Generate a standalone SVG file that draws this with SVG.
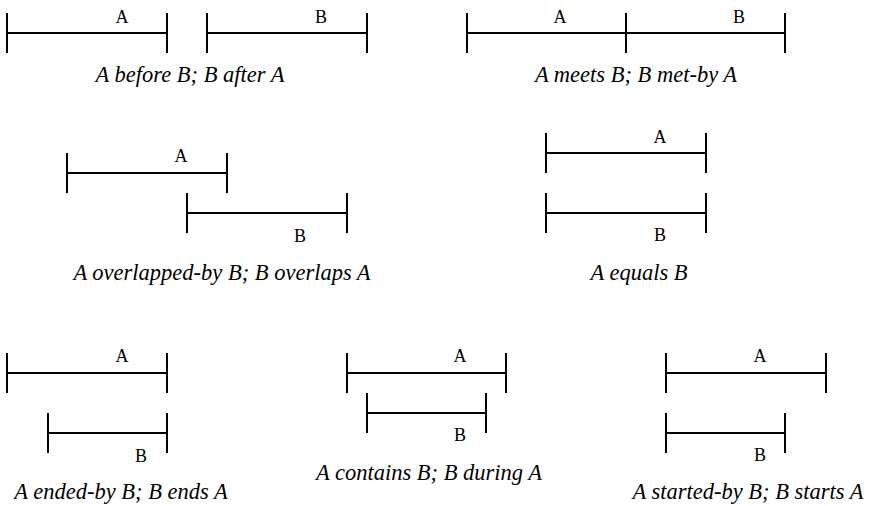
<svg xmlns="http://www.w3.org/2000/svg" width="872" height="506" viewBox="0 0 872 506">
<style>
  .iv { fill: none; stroke: #000; stroke-width: 2; }
  .lbl { font-family: "Liberation Serif", "Times New Roman", serif; font-size: 18px; fill: #000; text-anchor: middle; }
  .cap { font-family: "Liberation Serif", "Times New Roman", serif; font-size: 22.5px; font-style: italic; fill: #000; text-anchor: middle; }
</style>
<rect width="872" height="506" fill="#fff"/>

<g id="before">
  <g id="before-A"><path class="iv" d="M7 33H167M7 13V53M167 13V53"/><text class="lbl" x="122" y="23">A</text></g>
  <g id="before-B"><path class="iv" d="M207 33H367M207 13V53M367 13V53"/><text class="lbl" x="321" y="23">B</text></g>
  <text class="cap" x="190" y="82">A before B; B after A</text>
</g>

<g id="meets">
  <g id="meets-A"><path class="iv" d="M467 33H626M467 13V53M626 13V53"/><text class="lbl" x="560" y="23">A</text></g>
  <g id="meets-B"><path class="iv" d="M626 33H785M785 13V53"/><text class="lbl" x="739" y="23">B</text></g>
  <text class="cap" x="636" y="82">A meets B; B met-by A</text>
</g>

<g id="overlap">
  <g id="overlap-A"><path class="iv" d="M67 173H227M67 153V193M227 153V193"/><text class="lbl" x="181" y="162">A</text></g>
  <g id="overlap-B"><path class="iv" d="M187 213H347M187 193V233M347 193V233"/><text class="lbl" x="300" y="242">B</text></g>
  <text class="cap" x="222" y="280">A overlapped-by B; B overlaps A</text>
</g>

<g id="equals">
  <g id="equals-A"><path class="iv" d="M546 153H706M546 133V173M706 133V173"/><text class="lbl" x="660" y="143">A</text></g>
  <g id="equals-B"><path class="iv" d="M546 213H706M546 193V233M706 193V233"/><text class="lbl" x="660" y="241">B</text></g>
  <text class="cap" x="639" y="280">A equals B</text>
</g>

<g id="ended">
  <g id="ended-A"><path class="iv" d="M7 373H167M7 353V393M167 353V393"/><text class="lbl" x="122" y="362">A</text></g>
  <g id="ended-B"><path class="iv" d="M48 433H167M48 413V453M167 413V453"/><text class="lbl" x="141" y="462">B</text></g>
  <text class="cap" x="121" y="499">A ended-by B; B ends A</text>
</g>

<g id="contains">
  <g id="contains-A"><path class="iv" d="M347 373H506M347 353V393M506 353V393"/><text class="lbl" x="460" y="362">A</text></g>
  <g id="contains-B"><path class="iv" d="M367 413H486M367 393V433M486 393V433"/><text class="lbl" x="460" y="441">B</text></g>
  <text class="cap" x="429" y="480">A contains B; B during A</text>
</g>

<g id="started">
  <g id="started-A"><path class="iv" d="M666 373H826M666 353V393M826 353V393"/><text class="lbl" x="760" y="362">A</text></g>
  <g id="started-B"><path class="iv" d="M666 433H785M666 413V453M785 413V453"/><text class="lbl" x="760" y="461">B</text></g>
  <text class="cap" x="748" y="499">A started-by B; B starts A</text>
</g>
</svg>
